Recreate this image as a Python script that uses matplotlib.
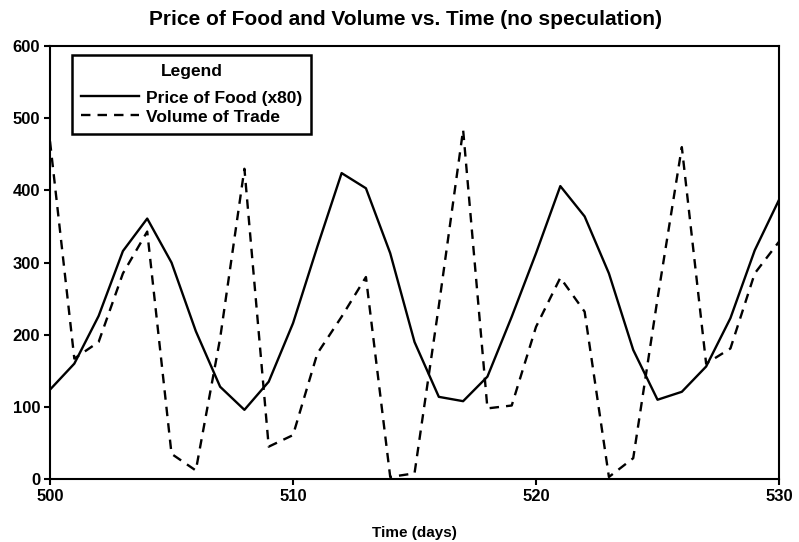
import matplotlib
matplotlib.use("Agg")
from matplotlib import pyplot as plt

plt.rcParams['font.family'] = ['Liberation Sans', 'DejaVu Sans']

days = list(range(500, 531))

# price of food scaled by 80
price_x80 = [124, 160, 226, 316, 361, 300, 205, 128, 96, 135,
             216, 322, 424, 403, 313, 190, 114, 108, 142, 225,
             313, 406, 364, 285, 179, 110, 121, 156, 223, 317,
             387]

volume = [468, 167, 190, 285, 343, 35, 12, 195, 430, 45,
          61, 174, 225, 280, 3, 8, 240, 484, 98, 102,
          211, 279, 232, 3, 29, 250, 460, 160, 181, 285,
          329]

xticks = [500, 510, 520, 530]
yticks = [0, 100, 200, 300, 400, 500, 600]

fig = plt.figure(figsize=(7.99, 5.42), dpi=100)
ax = fig.add_axes([0.0626, 0.116, 0.9124, 0.799])

ax.plot(days, price_x80, color='black', lw=1.7, label='Price of Food (x80)')
ax.plot(days, volume, color='black', lw=1.7, dashes=(4, 3), label='Volume of Trade')

ax.set_xlim(500, 530)
ax.set_ylim(0, 600)
ax.set_xticks(xticks)
ax.set_yticks(yticks)
ax.tick_params(direction='out', length=4, width=1.5, labelsize=12, pad=3)
for lbl in ax.get_xticklabels() + ax.get_yticklabels():
    lbl.set_fontweight('bold')
for sp in ax.spines.values():
    sp.set_linewidth(1.5)

ax.set_title('Price of Food and Volume vs. Time (no speculation)',
             fontsize=15, fontweight='bold', pad=15, x=0.487)
ax.set_xlabel('Time (days)', fontsize=11, fontweight='bold', labelpad=16)

leg = ax.legend(title='Legend', loc='upper left', bbox_to_anchor=(0.03, 0.98),
                borderaxespad=0, fancybox=False, framealpha=1, edgecolor='black',
                fontsize=12.5, title_fontsize=12.5, handlelength=3.3,
                handletextpad=0.4, labelspacing=0.22, borderpad=0.55)
leg.get_frame().set_linewidth(1.8)
leg.get_title().set_fontweight('bold')
for t in leg.get_texts():
    t.set_fontweight('bold')
# a bit more room between the legend title and the entries
leg._legend_box.sep = 8

plt.savefig('out.png', dpi=100)
